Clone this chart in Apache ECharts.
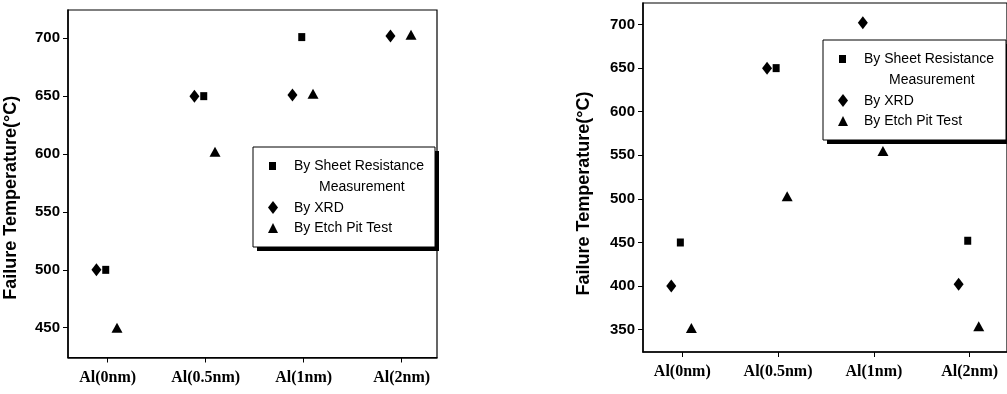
<!DOCTYPE html>
<html>
<head>
<meta charset="utf-8">
<script src="https://cdn.jsdelivr.net/npm/echarts@6/dist/echarts.min.js"></script>
<style>
  html, body { margin: 0; padding: 0; background: #fff; }
  #main { width: 1007px; height: 394px; }
</style>
</head>
<body>
<div id="main"></div>
<script>
// categories shared by both panels
const categories = ['Al(0nm)', 'Al(0.5nm)', 'Al(1nm)', 'Al(2nm)'];

// left panel (°C)
const leftSheet = [500, 650, 701, null];
const leftXrd = [500, 650, 651, 702];
const leftEtch = [450, 602, 652, 703];
const leftTicks = [450, 500, 550, 600, 650, 700];

// right panel (°C)
const rightSheet = [450, 650, null, 452];
const rightXrd = [400, 650, 702, 402];
const rightEtch = [352, 503, 555, 354];
const rightTicks = [350, 400, 450, 500, 550, 600, 650, 700];

// small side shift of each method around its category, as in the figure
const sheetShift = -0.02;
const xrdShift = -0.115;
const etchShift = 0.095;

const chart = echarts.init(document.getElementById('main'));

function pts(vals, shift) {
  const out = [];
  vals.forEach((v, i) => { if (v != null) out.push([i + shift, v]); });
  return out;
}

function xAxisOpt(idx, min, max) {
  return {
    type: 'value', gridIndex: idx, min: min, max: max,
    splitLine: { show: false },
    axisLine: { onZero: false, lineStyle: { color: '#000', width: 1.5 } },
    axisTick: { customValues: [0, 1, 2, 3], length: 5, lineStyle: { color: '#000' } },
    axisLabel: {
      customValues: [0, 1, 2, 3], margin: 12,
      formatter: v => categories[Math.round(v)],
      color: '#000', fontFamily: 'Liberation Serif', fontWeight: 'bold', fontSize: 16
    }
  };
}

function yAxisOpt(idx, min, max, ticks, gap, shift) {
  return {
    type: 'value', gridIndex: idx, min: min, max: max,
    name: 'Failure Temperature(°C)', nameLocation: 'middle', nameRotate: 90, nameGap: gap,
    nameTextStyle: {
      color: '#000', fontFamily: 'Liberation Sans', fontWeight: 'bold', fontSize: 18,
      padding: [0, shift, 0, 0]
    },
    splitLine: { show: false },
    axisLine: { onZero: false, lineStyle: { color: '#000', width: 1.5 } },
    axisTick: { customValues: ticks, length: 5, lineStyle: { color: '#000' } },
    axisLabel: {
      customValues: ticks, margin: 8,
      color: '#000', fontFamily: 'Liberation Sans', fontWeight: 'bold', fontSize: 15
    }
  };
}

function scatter(name, vals, shift, symbol, size, idx) {
  return {
    name: name, type: 'scatter', xAxisIndex: idx, yAxisIndex: idx,
    symbol: symbol, symbolSize: size,
    itemStyle: { color: '#000', opacity: 1 },
    data: pts(vals, shift)
  };
}

const diamondPath = 'path://M5,0 L10,6.5 L5,13 L0,6.5 Z';

// hand-drawn legend box with drop shadow
function legendBox(x, y, w, h) {
  const font = '14px "Liberation Sans", Arial, sans-serif';
  return {
    type: 'group', x: x, y: y,
    children: [
      { type: 'rect', shape: { x: 4, y: 4, width: w, height: h }, style: { fill: '#000' } },
      { type: 'rect', shape: { x: 0, y: 0, width: w, height: h }, style: { fill: '#fff', stroke: '#000', lineWidth: 1 } },
      { type: 'rect', shape: { x: 16, y: 15, width: 7, height: 8 }, style: { fill: '#000' } },
      { type: 'polygon', shape: { points: [[20, 54], [25, 60.5], [20, 67], [15, 60.5]] }, style: { fill: '#000' } },
      { type: 'polygon', shape: { points: [[20, 76], [25, 86], [15, 86]] }, style: { fill: '#000' } },
      { type: 'text', x: 41, y: 19, style: { text: 'By Sheet Resistance', font: font, fill: '#000', verticalAlign: 'middle' } },
      { type: 'text', x: 66, y: 40, style: { text: 'Measurement', font: font, fill: '#000', verticalAlign: 'middle' } },
      { type: 'text', x: 41, y: 61, style: { text: 'By XRD', font: font, fill: '#000', verticalAlign: 'middle' } },
      { type: 'text', x: 41, y: 81.5, style: { text: 'By Etch Pit Test', font: font, fill: '#000', verticalAlign: 'middle' } }
    ]
  };
}

const option = {
  backgroundColor: '#fff',
  animation: false,
  grid: [
    { left: 68, top: 10, width: 369, height: 347.5, show: true, borderColor: '#000', borderWidth: 1.2 },
    { left: 643, top: 3, width: 373, height: 349, show: true, borderColor: '#000', borderWidth: 1.2 }
  ],
  xAxis: [xAxisOpt(0, -0.405, 3.36), xAxisOpt(1, -0.41, 3.39)],
  yAxis: [
    yAxisOpt(0, 424.3, 724.4, leftTicks, 48, 28),
    yAxisOpt(1, 324.4, 724.7, rightTicks, 50, 32)
  ],
  series: [
    scatter('By Sheet Resistance Measurement', leftSheet, sheetShift, 'rect', [7, 8], 0),
    scatter('By XRD', leftXrd, xrdShift, diamondPath, [10, 13], 0),
    scatter('By Etch Pit Test', leftEtch, etchShift, 'triangle', [11, 10], 0),
    scatter('By Sheet Resistance Measurement', rightSheet, sheetShift, 'rect', [7, 8], 1),
    scatter('By XRD', rightXrd, xrdShift, diamondPath, [10, 13], 1),
    scatter('By Etch Pit Test', rightEtch, etchShift, 'triangle', [11, 10], 1)
  ],
  graphic: [legendBox(253, 147, 182, 100), legendBox(823, 40, 183, 100)]
};

chart.setOption(option);
</script>
</body>
</html>
